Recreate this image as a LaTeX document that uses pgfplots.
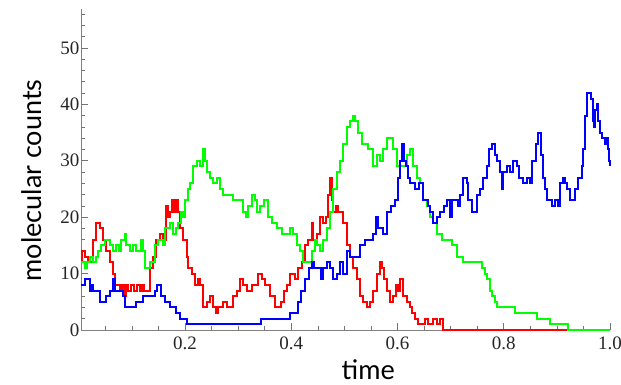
\documentclass[border=0pt]{standalone}
\usepackage{fontspec}
\setmainfont{Liberation Serif}
\newfontfamily\lblfont{Lato}
\usepackage{pgfplots}
\pgfplotsset{compat=1.18}
\begin{document}
\begin{tikzpicture}
\path[use as bounding box] (-81pt,-54pt) rectangle (540pt,330pt);
\begin{axis}[
  at={(0pt,0pt)}, anchor=south west,
  scale only axis, width=529pt, height=321pt,
  xmin=0.004, xmax=1.0, ymin=0, ymax=56.9,
  axis lines*=left,
  axis line style={draw=black!50, line width=0.8pt},
  tick align=inside,
  major tick length=7pt, minor tick length=4pt,
  every tick/.style={draw=black!55, line width=0.6pt},
  xtick={0.2,0.4,0.6,0.8,1.0},
  xticklabels={0.2,0.4,0.6,0.8,1.0},
  minor xtick={0.05,0.1,0.15,0.25,0.3,0.35,0.45,0.5,0.55,0.65,0.7,0.75,0.85,0.9,0.95},
  ytick={0,10,20,30,40,50},
  minor ytick={2,4,6,8,12,14,16,18,22,24,26,28,32,34,36,38,42,44,46,48,52,54,56},
  /pgf/number format/assume math mode=true,
  ticklabel style={font=\fontsize{19}{19}\selectfont, text=black!85},
  xticklabel style={yshift=-3pt},
  yticklabel style={xshift=2pt},
  xlabel={time},
  ylabel={molecular counts},
  xlabel style={font=\lblfont\fontsize{27}{27}\selectfont, at={(axis description cs:0.543,0)}, anchor=base, yshift=-49pt},
  ylabel style={font=\lblfont\fontsize{27}{27}\selectfont, at={(axis description cs:0,0.466)}, anchor=base, yshift=39pt},
  clip=false,
  every axis plot/.append style={line width=2pt, const plot},
]
\addplot[color={rgb,1:red,1;green,0;blue,0}] coordinates {
(0.004,12)(0.006,14)(0.011,13)(0.017,12)(0.026,16)(0.032,19)(0.040,18)(0.045,16)(0.051,14)(0.058,12)(0.064,10)(0.068,8)(0.077,7)(0.081,8)(0.085,6)(0.089,8)(0.092,7)(0.098,8)(0.104,7)(0.109,8)(0.115,7)(0.119,8)(0.122,7)(0.134,11)(0.139,13)(0.145,16)(0.153,17)(0.158,16)(0.164,22)(0.168,20)(0.171,21)(0.175,23)(0.179,21)(0.183,23)(0.186,21)(0.190,18)(0.196,16)(0.203,13)(0.205,11)(0.213,10)(0.218,8)(0.224,9)(0.228,8)(0.234,4)(0.241,5)(0.247,6)(0.252,4)(0.258,3)(0.262,4)(0.271,5)(0.279,4)(0.290,6)(0.298,7)(0.303,9)(0.309,8)(0.316,7)(0.326,8)(0.337,10)(0.345,9)(0.350,8)(0.360,6)(0.369,4)(0.380,5)(0.386,7)(0.392,8)(0.397,10)(0.407,9)(0.412,11)(0.420,12)(0.426,15)(0.431,16)(0.439,19)(0.441,16)(0.448,17)(0.454,20)(0.459,19)(0.465,20)(0.469,24)(0.473,27)(0.476,23)(0.478,21)(0.484,22)(0.488,21)(0.497,19)(0.505,15)(0.510,13)(0.516,11)(0.524,9)(0.529,6)(0.535,5)(0.542,4)(0.548,5)(0.554,7)(0.561,10)(0.567,12)(0.571,11)(0.574,9)(0.580,7)(0.586,5)(0.591,6)(0.597,8)(0.601,7)(0.605,9)(0.610,6)(0.618,5)(0.623,4)(0.627,3)(0.633,2)(0.638,1)(0.652,2)(0.657,1)(0.667,2)(0.674,1)(0.680,2)(0.685,0)(1.000,0)
};
\addplot[color={rgb,1:red,0;green,1;blue,0}] coordinates {
(0.004,12)(0.011,11)(0.015,12)(0.021,13)(0.026,12)(0.032,13)(0.036,14)(0.041,15)(0.049,16)(0.058,15)(0.064,14)(0.070,15)(0.075,14)(0.079,16)(0.087,17)(0.089,15)(0.096,14)(0.102,15)(0.107,14)(0.117,16)(0.121,14)(0.124,11)(0.134,12)(0.143,15)(0.149,16)(0.158,15)(0.162,18)(0.171,19)(0.177,17)(0.183,18)(0.186,19)(0.192,21)(0.196,20)(0.200,23)(0.205,25)(0.209,26)(0.215,29)(0.222,30)(0.228,29)(0.234,32)(0.237,30)(0.241,28)(0.247,27)(0.252,26)(0.260,27)(0.266,25)(0.271,24)(0.290,23)(0.309,21)(0.314,20)(0.318,22)(0.326,24)(0.331,23)(0.335,21)(0.341,22)(0.348,23)(0.356,20)(0.363,19)(0.373,18)(0.382,17)(0.397,18)(0.403,17)(0.411,15)(0.416,14)(0.422,12)(0.439,14)(0.444,16)(0.448,15)(0.454,14)(0.459,16)(0.467,18)(0.473,21)(0.478,25)(0.486,28)(0.492,30)(0.497,33)(0.505,36)(0.510,37)(0.516,38)(0.520,37)(0.525,35)(0.533,33)(0.544,32)(0.554,29)(0.561,31)(0.567,30)(0.572,32)(0.580,34)(0.591,32)(0.599,29)(0.618,31)(0.623,32)(0.629,29)(0.637,27)(0.642,26)(0.648,23)(0.655,22)(0.661,20)(0.667,19)(0.674,17)(0.684,16)(0.702,15)(0.712,13)(0.723,12)(0.759,11)(0.765,10)(0.768,9)(0.774,7)(0.778,6)(0.783,5)(0.787,4)(0.821,3)(0.862,2)(0.887,1)(0.921,0)(1.000,0)
};
\addplot[color={rgb,1:red,0;green,0;blue,1}] coordinates {
(0.004,8)(0.011,9)(0.021,7)(0.024,8)(0.026,7)(0.040,5)(0.051,6)(0.058,7)(0.064,9)(0.068,7)(0.083,6)(0.087,4)(0.107,5)(0.121,6)(0.143,7)(0.147,8)(0.154,6)(0.162,5)(0.171,4)(0.183,3)(0.190,2)(0.203,1)(0.343,2)(0.397,3)(0.412,5)(0.418,7)(0.426,9)(0.433,11)(0.439,12)(0.443,11)(0.456,9)(0.459,11)(0.467,12)(0.473,11)(0.478,9)(0.486,10)(0.492,12)(0.497,10)(0.505,14)(0.510,13)(0.529,15)(0.539,16)(0.554,17)(0.559,20)(0.563,18)(0.572,17)(0.580,21)(0.588,22)(0.595,23)(0.601,27)(0.605,30)(0.608,33)(0.612,30)(0.616,29)(0.620,27)(0.623,26)(0.633,25)(0.640,26)(0.648,23)(0.657,22)(0.661,21)(0.667,19)(0.674,20)(0.680,21)(0.687,22)(0.693,23)(0.699,20)(0.702,23)(0.714,22)(0.718,24)(0.723,27)(0.731,26)(0.733,23)(0.740,21)(0.750,24)(0.755,25)(0.761,27)(0.768,29)(0.772,32)(0.778,33)(0.783,31)(0.787,30)(0.793,28)(0.797,25)(0.798,28)(0.806,29)(0.812,28)(0.817,30)(0.825,29)(0.829,27)(0.836,26)(0.844,27)(0.849,26)(0.853,30)(0.861,33)(0.864,35)(0.870,31)(0.874,27)(0.878,25)(0.881,23)(0.891,22)(0.896,23)(0.902,22)(0.906,26)(0.911,27)(0.915,26)(0.919,25)(0.925,23)(0.934,25)(0.940,27)(0.947,29)(0.949,32)(0.953,38)(0.957,42)(0.964,41)(0.968,37)(0.970,36)(0.972,39)(0.975,40)(0.977,37)(0.981,35)(0.985,34)(0.991,33)(0.994,34)(0.996,32)(0.998,30)(1.000,29)
};
\end{axis}
\end{tikzpicture}
\end{document}
